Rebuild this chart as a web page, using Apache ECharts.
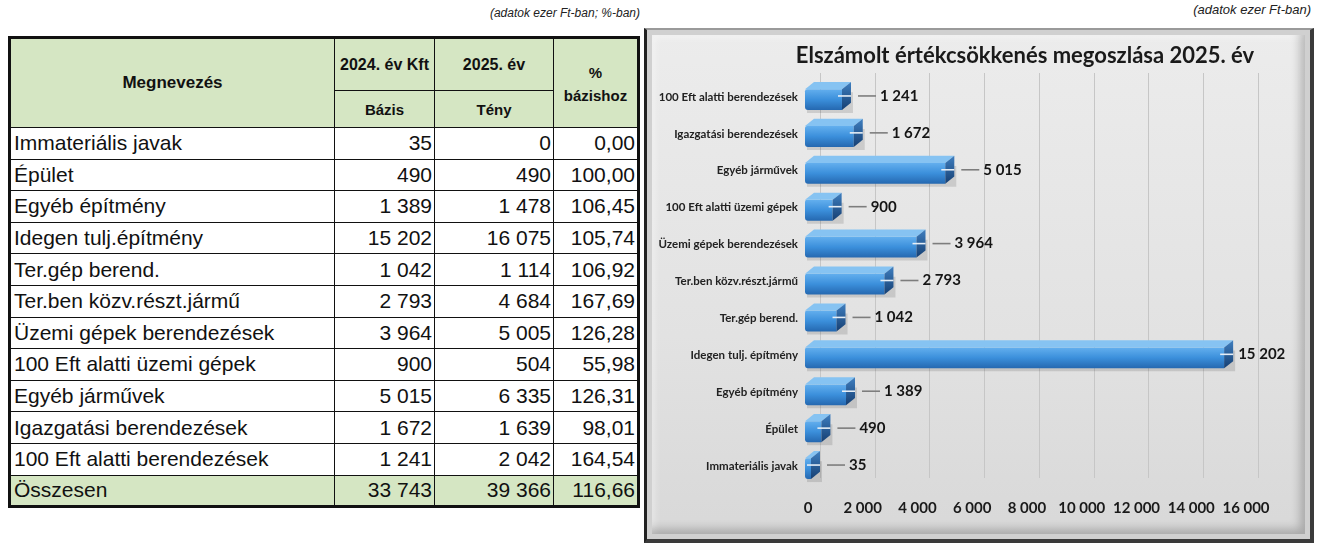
<!DOCTYPE html>
<html><head><meta charset="utf-8">
<script src="https://cdn.jsdelivr.net/npm/echarts@6/dist/echarts.min.js"></script>
<style>
html,body{margin:0;padding:0;background:#fff;width:1317px;height:544px;overflow:hidden;position:relative;font-family:'Liberation Sans',Arial,sans-serif;}
.note{position:absolute;font-style:italic;font-size:12px;color:#222;white-space:nowrap;}
#note1{right:677px;top:6px;}
#note2{right:6px;top:2px;font-size:13px;}
#tbl{position:absolute;left:8px;top:36px;width:629px;border-collapse:collapse;table-layout:fixed;border:3px solid #111;}
#tbl th,#tbl td{border:1.5px solid #111;padding:0 3px;overflow:hidden;white-space:nowrap;}
#tbl th{background:#d5e6c3;font-size:15px;color:#111;font-weight:bold;}
#tbl th.big{font-size:17px;}
#tbl th.yr{font-size:16px;}
#tbl th.pct{line-height:23px;padding-top:2px;}
#tbl tr.h1{height:53px;}
#tbl tr.h2{height:37px;}
#tbl tbody tr{height:31.6px;}
#tbl td{font-size:21px;color:#111;}
#tbl td.num{text-align:right;padding-right:2px;}
#tbl tr.tot td{background:#d5e6c3;}
#frame{position:absolute;left:644px;top:28px;width:670px;height:515px;box-sizing:border-box;
 border-left:3px solid #222;border-right:4px solid #3a3a3a;border-bottom:4px solid #3a3a3a;border-top:2px solid #9a9a9a;
 background:linear-gradient(180deg,#ececec 0%,#e2e2e2 60%,#d8d8d8 100%);
 box-shadow:inset 0 0 0 5px #d0d0d0, inset -6px -6px 10px 4px rgba(0,0,0,0.22), inset 4px 4px 8px 2px rgba(255,255,255,0.6);}
#chart{position:absolute;left:644px;top:28px;width:670px;height:515px;}
</style></head>
<body>
<div class="note" id="note1">(adatok ezer Ft-ban; %-ban)</div>
<div class="note" id="note2">(adatok ezer Ft-ban)</div>
<table id="tbl">
<colgroup><col style="width:325px"><col style="width:100px"><col style="width:119px"><col style="width:85px"></colgroup>
<thead>
<tr class="h1"><th class="big" rowspan="2">Megnevezés</th><th class="yr">2024. év Kft</th><th class="yr">2025. év</th><th class="pct" rowspan="2">%<br>bázishoz</th></tr>
<tr class="h2"><th>Bázis</th><th>Tény</th></tr>
</thead>
<tbody id="tb"></tbody>
</table>
<div id="frame"></div>
<div id="chart"></div>
<script>
// ---- data ----
var categories = ['Immateriális javak','Épület','Egyéb építmény','Idegen tulj.építmény','Ter.gép berend.','Ter.ben közv.részt.jármű','Üzemi gépek berendezések','100 Eft alatti üzemi gépek','Egyéb járművek','Igazgatási berendezések','100 Eft alatti berendezések'];
var chartCategories = ['Immateriális javak','Épület','Egyéb építmény','Idegen tulj. építmény','Ter.gép berend.','Ter.ben közv.részt.jármű','Üzemi gépek berendezések','100 Eft alatti üzemi gépek','Egyéb járművek','Igazgatási berendezések','100 Eft alatti berendezések'];
var base2024 = [35,490,1389,15202,1042,2793,3964,900,5015,1672,1241];
var actual2025 = [0,490,1478,16075,1114,4684,5005,504,6335,1639,2042];
var pctToBase = [0.00,100.00,106.45,105.74,106.92,167.69,126.28,55.98,126.31,98.01,164.54];
var totalLabel = 'Összesen';
var totalBase = 33743, totalActual = 39366, totalPct = 116.66;
var chartTitle = 'Elszámolt értékcsökkenés megoszlása 2025. év';

function fmtInt(n){ return String(n).replace(/\B(?=(\d{3})+(?!\d))/g,' '); }
function fmtPct(n){ return n.toFixed(2).replace('.',','); }

// ---- table ----
var tb = document.getElementById('tb');
var html = '';
for (var i=0;i<categories.length;i++){
  html += '<tr><td>'+categories[i]+'</td><td class="num">'+fmtInt(base2024[i])+'</td><td class="num">'+fmtInt(actual2025[i])+'</td><td class="num">'+fmtPct(pctToBase[i])+'</td></tr>';
}
html += '<tr class="tot"><td>'+totalLabel+'</td><td class="num">'+fmtInt(totalBase)+'</td><td class="num">'+fmtInt(totalActual)+'</td><td class="num">'+fmtPct(totalPct)+'</td></tr>';
tb.innerHTML = html;

// ---- chart ----
var chart = echarts.init(document.getElementById('chart'), null, {renderer:'canvas'});
var seriesData = base2024.map(function(v,i){ return [v,i]; });

function renderBar(params, api){
  var val = api.value(0), idx = api.value(1);
  var s = api.coord([0, idx]), e = api.coord([val, idx]);
  var band = api.size([0,1])[1];
  var h = band*0.76, d = 9;
  var yc = s[1]-1;
  var x0 = s[0]-3, x1 = Math.max(e[0], x0+6);
  var yTop = yc-h/2, yBot = yc+h/2, fy = yTop+d*0.8;
  var cs = params.coordSys;
  var plotRight = cs.x + cs.width;
  var tight = (x1 + d + 29 + 40) > plotRight + 40;
  var tx = tight ? x1 + d + 5 : x1 + d + 29;
  var kids = [
    {type:'rect', shape:{x:x0+2,y:fy+3,width:x1-x0+d,height:yBot-fy}, style:{fill:'rgba(0,0,0,0.12)'}},
    {type:'rect', shape:{x:x0,y:fy,width:x1-x0,height:yBot-fy,r:[2,0,0,3]}, style:{fill:new echarts.graphic.LinearGradient(0,0,0,1,[{offset:0,color:'#63afee'},{offset:0.5,color:'#3b8fdb'},{offset:1,color:'#2568b0'}])}},
    {type:'polygon', shape:{points:[[x0,fy],[x0+d,yTop],[x1+d,yTop],[x1,fy]]}, style:{fill:'#86c3f2'}},
    {type:'polygon', shape:{points:[[x1,fy],[x1+d,yTop],[x1+d,yBot-d*0.8],[x1,yBot]]}, style:{fill:new echarts.graphic.LinearGradient(0,0,0,1,[{offset:0,color:'#3f7fc0'},{offset:1,color:'#163f72'}])}},
    {type:'line', shape:{x1:x1-4,y1:yc,x2:x1+d,y2:yc}, style:{stroke:'#e6eef6',lineWidth:1.6}}
  ];
  if (!tight) kids.push({type:'line', shape:{x1:x1+d+7,y1:yc,x2:x1+d+25,y2:yc}, style:{stroke:'#7d7d7d',lineWidth:1.6}});
  kids.push({type:'text', x:tx, y:yc, style:{text:fmtInt(val), fill:'#151515', font:'bold 15px Lato', align:'left', verticalAlign:'middle'}});
  return {type:'group', children:kids};
}

chart.setOption({
  animation:false,
  backgroundColor:'transparent',
  title:{text:chartTitle, left:376, top:12, textAlign:'center', textStyle:{fontFamily:'Lato', fontWeight:'bold', fontSize:22, color:'#1a1a1a'}},
  grid:[
    {left:164, right:68, top:50.5, bottom:58.5, containLabel:false},
    {left:176, right:56, top:45, bottom:65, containLabel:false}
  ],
  xAxis:[
    {type:'value', gridIndex:0, min:0, max:16000, interval:2000,
      axisLine:{show:false}, axisTick:{show:false}, splitLine:{show:false},
      axisLabel:{margin:16, fontFamily:'Lato', fontWeight:'bold', fontSize:15, color:'#1a1a1a', formatter:function(v){return fmtInt(v);}}},
    {type:'value', gridIndex:1, min:0, max:16000, interval:2000,
      axisLine:{show:false}, axisTick:{show:false}, axisLabel:{show:false},
      splitLine:{show:true, lineStyle:{color:'#c6c6c6', width:1}}}
  ],
  yAxis:[
    {type:'category', gridIndex:0, data:chartCategories,
      axisLine:{show:false}, axisTick:{show:false}, splitLine:{show:false},
      axisLabel:{margin:10, fontFamily:'Lato', fontWeight:'bold', fontSize:11.5, color:'#222'}},
    {type:'category', gridIndex:1, data:chartCategories, show:false}
  ],
  series:[{type:'custom', xAxisIndex:0, yAxisIndex:0, renderItem:renderBar, encode:{x:0,y:1}, data:seriesData, clip:false}]
});
</script>
</body></html>
